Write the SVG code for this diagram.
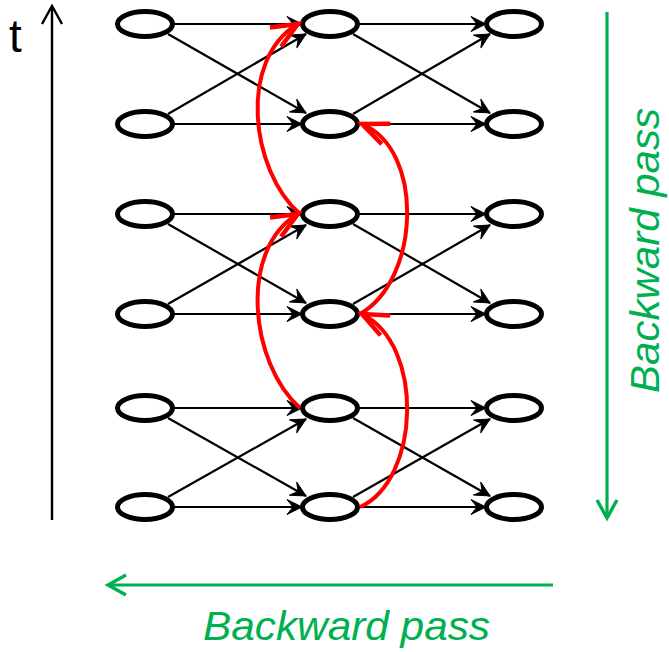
<svg xmlns="http://www.w3.org/2000/svg" width="669" height="652" viewBox="0 0 669 652">
<style>
.node{fill:#fff;stroke:#000;stroke-width:5}
.edge{fill:none;stroke:#000;stroke-width:2.2;marker-end:url(#bh)}
.red{fill:none;stroke:#ff0000;stroke-width:4;marker-end:url(#rh)}
.green{fill:none;stroke:#00b050;stroke-width:3.2;marker-end:url(#gh)}
.lbl{font-family:"Liberation Sans",Arial,sans-serif}
.gtxt{font-family:"Liberation Sans",Arial,sans-serif;font-style:italic;font-size:40px;fill:#00b050}
</style>
<defs>
<marker id="bh" markerUnits="userSpaceOnUse" orient="auto" refX="0" refY="0" markerWidth="20" markerHeight="20" overflow="visible">
<path d="M0,0 L-15,-7.5 L-9,0 L-15,7.5 Z" fill="#000" stroke="#000" stroke-width="1" stroke-linejoin="miter"/>
</marker>
<marker id="ah" markerUnits="userSpaceOnUse" orient="auto" refX="0" refY="0" markerWidth="20" markerHeight="20" overflow="visible">
<path d="M-18,-10 L0,0 L-18,10" fill="none" stroke="#000" stroke-width="2.4"/>
</marker>
<marker id="gh" markerUnits="userSpaceOnUse" orient="auto" refX="0" refY="0" markerWidth="20" markerHeight="20" overflow="visible">
<path d="M-18,-10 L0,0 L-18,10" fill="none" stroke="#00b050" stroke-width="3.4"/>
</marker>
<marker id="rh" markerUnits="userSpaceOnUse" orient="auto" refX="0" refY="0" markerWidth="30" markerHeight="30" overflow="visible">
<path d="M-26,-11 L0,0 L-26,11" fill="none" stroke="#ff0000" stroke-width="4.5" stroke-linejoin="miter"/>
</marker>
</defs>
<rect width="669" height="652" fill="#fff"/>

<g id="axis">
<line x1="52" y1="520" x2="52" y2="6" stroke="#000" stroke-width="2.4" marker-end="url(#ah)"/>
<text class="lbl" x="9" y="52" font-size="46">t</text>
</g>

<g id="connectors">
<line class="edge" x1="174" y1="24" x2="302" y2="24"/>
<line class="edge" x1="174" y1="124" x2="302" y2="124"/>
<line class="edge" x1="174" y1="214" x2="302" y2="214"/>
<line class="edge" x1="174" y1="314" x2="302" y2="314"/>
<line class="edge" x1="174" y1="408" x2="302" y2="408"/>
<line class="edge" x1="174" y1="507" x2="302" y2="507"/>
<line class="edge" x1="168" y1="34" x2="306" y2="113"/>
<line class="edge" x1="168" y1="114" x2="306" y2="34"/>
<line class="edge" x1="168" y1="224" x2="306" y2="303"/>
<line class="edge" x1="168" y1="304" x2="306" y2="225"/>
<line class="edge" x1="168" y1="418" x2="306" y2="496"/>
<line class="edge" x1="168" y1="497" x2="306" y2="419"/>
<line class="edge" x1="359" y1="24" x2="486" y2="24"/>
<line class="edge" x1="359" y1="124" x2="486" y2="124"/>
<line class="edge" x1="359" y1="214" x2="486" y2="214"/>
<line class="edge" x1="359" y1="314" x2="486" y2="314"/>
<line class="edge" x1="359" y1="408" x2="486" y2="408"/>
<line class="edge" x1="359" y1="507" x2="486" y2="507"/>
<line class="edge" x1="353" y1="34" x2="490" y2="113"/>
<line class="edge" x1="353" y1="114" x2="490" y2="34"/>
<line class="edge" x1="353" y1="224" x2="490" y2="303"/>
<line class="edge" x1="353" y1="304" x2="490" y2="225"/>
<line class="edge" x1="353" y1="418" x2="490" y2="496"/>
<line class="edge" x1="353" y1="497" x2="490" y2="419"/>
</g>

<g id="nodes">
<g id="n00"><ellipse class="node" cx="145" cy="24" rx="27.5" ry="12.5"/></g>
<g id="n01"><ellipse class="node" cx="145" cy="124" rx="27.5" ry="12.5"/></g>
<g id="n02"><ellipse class="node" cx="145" cy="214" rx="27.5" ry="12.5"/></g>
<g id="n03"><ellipse class="node" cx="145" cy="314" rx="27.5" ry="12.5"/></g>
<g id="n04"><ellipse class="node" cx="145" cy="408" rx="27.5" ry="12.5"/></g>
<g id="n05"><ellipse class="node" cx="145" cy="507" rx="27.5" ry="12.5"/></g>
<g id="n10"><ellipse class="node" cx="330" cy="24" rx="27.5" ry="12.5"/></g>
<g id="n11"><ellipse class="node" cx="330" cy="124" rx="27.5" ry="12.5"/></g>
<g id="n12"><ellipse class="node" cx="330" cy="214" rx="27.5" ry="12.5"/></g>
<g id="n13"><ellipse class="node" cx="330" cy="314" rx="27.5" ry="12.5"/></g>
<g id="n14"><ellipse class="node" cx="330" cy="408" rx="27.5" ry="12.5"/></g>
<g id="n15"><ellipse class="node" cx="330" cy="507" rx="27.5" ry="12.5"/></g>
<g id="n20"><ellipse class="node" cx="514" cy="24" rx="27.5" ry="12.5"/></g>
<g id="n21"><ellipse class="node" cx="514" cy="124" rx="27.5" ry="12.5"/></g>
<g id="n22"><ellipse class="node" cx="514" cy="214" rx="27.5" ry="12.5"/></g>
<g id="n23"><ellipse class="node" cx="514" cy="314" rx="27.5" ry="12.5"/></g>
<g id="n24"><ellipse class="node" cx="514" cy="408" rx="27.5" ry="12.5"/></g>
<g id="n25"><ellipse class="node" cx="514" cy="507" rx="27.5" ry="12.5"/></g>
</g>

<g id="red-connectors">
<path class="red" d="M300,214 C250,170 238,59 298,24"/>
<path class="red" d="M300,408 C250,364 238,249 298,214"/>
<path class="red" d="M360,314 C420,280 425,150 362,124"/>
<path class="red" d="M360,507 C420,480 425,345 362,314"/>
</g>

<g id="backward-pass">
<line class="green" x1="607" y1="12" x2="607" y2="518"/>
<line class="green" x1="553" y1="585" x2="108" y2="585"/>
<text class="gtxt" x="203" y="640" textLength="287" lengthAdjust="spacingAndGlyphs">Backward pass</text>
<text class="gtxt" transform="translate(659,393) rotate(-90)" x="0" y="0" textLength="285" lengthAdjust="spacingAndGlyphs">Backward pass</text>
</g>
</svg>
